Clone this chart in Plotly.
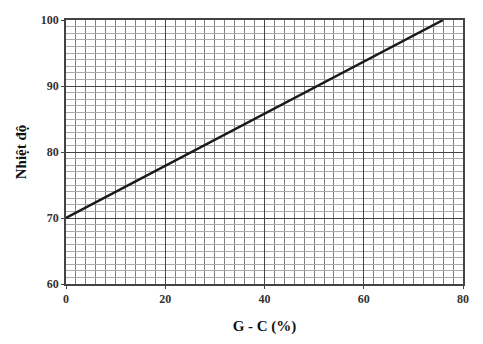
import plotly.graph_objects as go

gc_percent = [0, 76]
temperature = [70, 100]
x_ticks = [0, 20, 40, 60, 80]
y_ticks = [60, 70, 80, 90, 100]

font_family = "Liberation Serif, DejaVu Serif, serif"

fig = go.Figure()
fig.add_trace(go.Scatter(x=gc_percent, y=temperature, mode="lines",
                         line=dict(color="#1a1a1a", width=2.5), showlegend=False))

fig.update_layout(
    width=483, height=344,
    margin=dict(l=66, r=20, t=20, b=60),
    paper_bgcolor="white", plot_bgcolor="white",
    font=dict(family=font_family, color="#222", size=12),
)
fig.update_xaxes(
    range=[0, 80], tickvals=x_ticks, ticktext=["<b>%d</b>" % v for v in x_ticks],
    showgrid=True, gridcolor="#444", gridwidth=1,
    minor=dict(dtick=2, showgrid=True, gridcolor="#808080", gridwidth=1),
    showline=True, linecolor="#444", linewidth=1.5, mirror=True,
    ticks="outside", ticklen=3, tickcolor="#444", zeroline=False,
    tickfont=dict(family=font_family, size=12, color="#333"),
    title=dict(text="<b>G - C (%)</b>", font=dict(family=font_family, size=15, color="#111"), standoff=15),
)
fig.update_yaxes(
    range=[60, 100], tickvals=y_ticks, ticktext=["<b>%d</b>" % v for v in y_ticks],
    showgrid=True, gridcolor="#444", gridwidth=1,
    minor=dict(dtick=1, showgrid=True, gridcolor="#aaaaaa", gridwidth=1),
    showline=True, linecolor="#444", linewidth=1.5, mirror=True,
    ticks="outside", ticklen=3, tickcolor="#444", zeroline=False,
    tickfont=dict(family=font_family, size=12, color="#333"),
    title=dict(text="<b>Nhiệt độ</b>", font=dict(family=font_family, size=15, color="#111"), standoff=11),
)

fig.write_html("out.html")
